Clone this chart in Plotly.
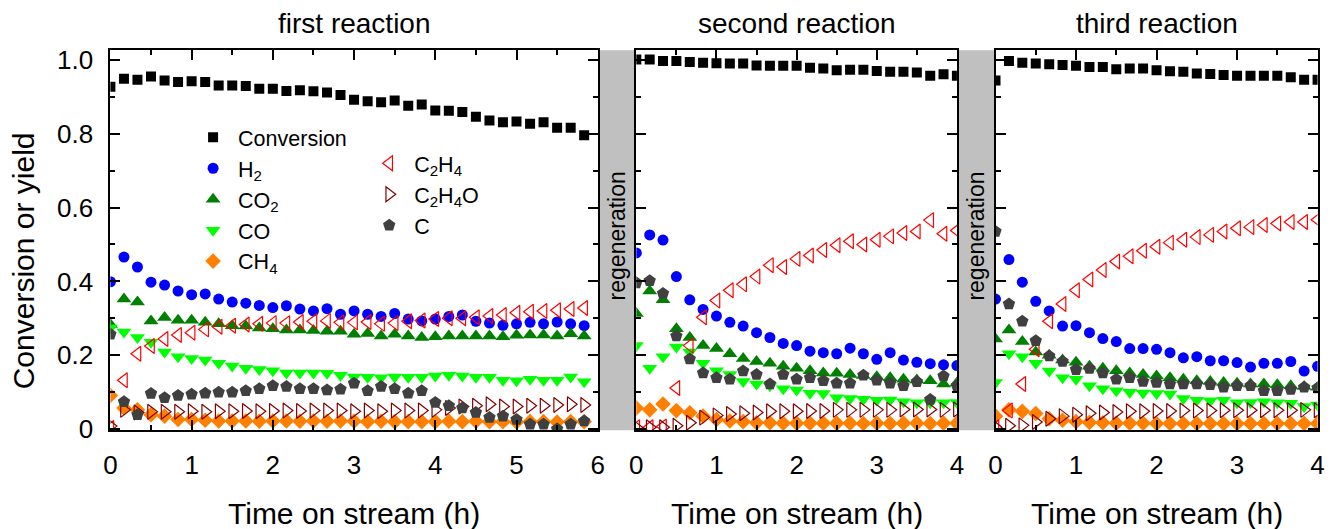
import plotly.graph_objects as go

W, H = 1332, 529

# ---------------- data ----------------
t_first = [0, 0.167, 0.333, 0.5, 0.667, 0.833, 1, 1.167, 1.333, 1.5, 1.667, 1.833,
           2, 2.167, 2.333, 2.5, 2.667, 2.833, 3, 3.167, 3.333, 3.5, 3.667, 3.833,
           4, 4.167, 4.333, 4.5, 4.667, 4.833, 5, 5.167, 5.333, 5.5, 5.667, 5.833]
t_later = [0, 0.167, 0.333, 0.5, 0.667, 0.833, 1, 1.167, 1.333, 1.5, 1.667, 1.833,
           2, 2.167, 2.333, 2.5, 2.667, 2.833, 3, 3.167, 3.333, 3.5, 3.667, 3.833, 4]

conv_1 = [0.927, 0.949, 0.946, 0.955, 0.944, 0.940, 0.942, 0.940, 0.931, 0.931, 0.929, 0.922,
          0.922, 0.916, 0.918, 0.915, 0.912, 0.905, 0.892, 0.888, 0.885, 0.890, 0.876, 0.879,
          0.863, 0.862, 0.859, 0.846, 0.836, 0.831, 0.833, 0.827, 0.831, 0.816, 0.816, 0.796]
h2_1 = [0.399, 0.466, 0.439, 0.398, 0.390, 0.374, 0.364, 0.366, 0.352, 0.344, 0.341, 0.335,
        0.329, 0.334, 0.325, 0.320, 0.326, 0.311, 0.320, 0.311, 0.305, 0.313, 0.298, 0.293,
        0.298, 0.305, 0.309, 0.292, 0.287, 0.281, 0.285, 0.289, 0.285, 0.290, 0.285, 0.280]
co2_1 = [0.283, 0.352, 0.344, 0.293, 0.302, 0.295, 0.295, 0.289, 0.285, 0.280, 0.279, 0.274,
         0.272, 0.268, 0.268, 0.267, 0.265, 0.265, 0.257, 0.259, 0.252, 0.257, 0.252, 0.248,
         0.250, 0.252, 0.252, 0.252, 0.252, 0.250, 0.254, 0.255, 0.255, 0.252, 0.258, 0.252]
co_1 = [0.274, 0.263, 0.248, 0.235, 0.209, 0.196, 0.191, 0.187, 0.178, 0.171, 0.165, 0.161,
        0.158, 0.152, 0.152, 0.152, 0.151, 0.146, 0.141, 0.140, 0.139, 0.141, 0.140, 0.140,
        0.144, 0.146, 0.144, 0.140, 0.140, 0.132, 0.131, 0.135, 0.132, 0.132, 0.141, 0.128]
ch4_1 = [0.091, 0.057, 0.052, 0.039, 0.035, 0.026, 0.026, 0.024, 0.022, 0.022, 0.022, 0.021,
         0.022, 0.022, 0.021, 0.022, 0.021, 0.022, 0.021, 0.020, 0.021, 0.020, 0.020, 0.020,
         0.020, 0.021, 0.020, 0.021, 0.020, 0.020, 0.019, 0.020, 0.020, 0.019, 0.020, 0.020]
c2h4_1 = [0.003, 0.132, 0.204, 0.225, 0.244, 0.255, 0.261, 0.270, 0.277, 0.280, 0.283, 0.285,
          0.287, 0.287, 0.290, 0.292, 0.293, 0.289, 0.289, 0.290, 0.285, 0.287, 0.292, 0.294,
          0.298, 0.300, 0.300, 0.303, 0.306, 0.309, 0.315, 0.318, 0.320, 0.322, 0.325, 0.328]
c2h4o_1 = [0.008, 0.052, 0.045, 0.047, 0.047, 0.047, 0.048, 0.047, 0.048, 0.048, 0.049, 0.048,
           0.049, 0.050, 0.049, 0.050, 0.050, 0.050, 0.048, 0.050, 0.048, 0.050, 0.050, 0.050,
           0.052, 0.057, 0.061, 0.063, 0.067, 0.061, 0.061, 0.063, 0.063, 0.065, 0.067, 0.065]
c_1 = [0.257, 0.074, 0.039, 0.096, 0.085, 0.091, 0.094, 0.097, 0.100, 0.100, 0.104, 0.109,
       0.117, 0.115, 0.109, 0.109, 0.106, 0.108, 0.124, 0.104, 0.115, 0.109, 0.097, 0.104,
       0.072, 0.063, 0.057, 0.045, 0.031, 0.035, 0.026, 0.013, 0.013, 0.000, 0.013, 0.022]

conv_2 = [1.001, 1.001, 0.997, 0.997, 0.994, 0.992, 0.991, 0.990, 0.990, 0.985, 0.984, 0.984,
          0.984, 0.979, 0.977, 0.972, 0.973, 0.973, 0.970, 0.968, 0.968, 0.966, 0.957, 0.961, 0.957]
h2_2 = [0.477, 0.526, 0.512, 0.413, 0.350, 0.324, 0.306, 0.289, 0.279, 0.261, 0.248, 0.232,
        0.226, 0.211, 0.207, 0.204, 0.219, 0.204, 0.189, 0.207, 0.187, 0.181, 0.177, 0.174, 0.172]
co2_2 = [0.313, 0.374, 0.350, 0.272, 0.248, 0.226, 0.218, 0.204, 0.191, 0.183, 0.178, 0.170,
         0.165, 0.158, 0.152, 0.151, 0.148, 0.145, 0.142, 0.139, 0.135, 0.133, 0.131, 0.122, 0.125]
co_2 = [0.226, 0.165, 0.196, 0.222, 0.209, 0.178, 0.158, 0.148, 0.129, 0.122, 0.117, 0.109,
        0.106, 0.097, 0.096, 0.085, 0.083, 0.081, 0.078, 0.079, 0.074, 0.071, 0.071, 0.071, 0.072]
ch4_2 = [0.057, 0.052, 0.068, 0.050, 0.044, 0.035, 0.026, 0.022, 0.020, 0.017, 0.017, 0.016,
         0.016, 0.016, 0.016, 0.016, 0.016, 0.015, 0.016, 0.015, 0.016, 0.016, 0.015, 0.016, 0.016]
c2h4_2 = [0.005, 0.005, 0.007, 0.111, 0.226, 0.303, 0.348, 0.376, 0.392, 0.413, 0.444, 0.439,
          0.461, 0.470, 0.485, 0.498, 0.509, 0.500, 0.513, 0.522, 0.531, 0.535, 0.566, 0.529, 0.538]
c2h4o_2 = [0.004, 0.005, 0.005, 0.009, 0.017, 0.031, 0.037, 0.041, 0.043, 0.045, 0.048, 0.048,
           0.048, 0.049, 0.049, 0.052, 0.052, 0.052, 0.052, 0.052, 0.053, 0.053, 0.053, 0.052, 0.053]
c_2 = [0.396, 0.402, 0.367, 0.252, 0.190, 0.152, 0.139, 0.135, 0.157, 0.148, 0.122, 0.148,
       0.135, 0.139, 0.131, 0.124, 0.124, 0.146, 0.132, 0.124, 0.117, 0.128, 0.080, 0.144, 0.117]

conv_3 = [0.944, 0.997, 0.992, 0.990, 0.988, 0.986, 0.984, 0.981, 0.981, 0.975, 0.977, 0.977,
          0.972, 0.969, 0.968, 0.963, 0.962, 0.959, 0.957, 0.957, 0.957, 0.957, 0.953, 0.946, 0.946]
h2_3 = [0.352, 0.459, 0.398, 0.346, 0.320, 0.279, 0.280, 0.261, 0.245, 0.237, 0.218, 0.218,
        0.216, 0.207, 0.193, 0.196, 0.185, 0.185, 0.180, 0.168, 0.178, 0.178, 0.183, 0.157, 0.170]
co2_3 = [0.244, 0.268, 0.237, 0.209, 0.200, 0.187, 0.181, 0.170, 0.165, 0.158, 0.152, 0.148,
         0.144, 0.139, 0.135, 0.131, 0.129, 0.126, 0.124, 0.122, 0.122, 0.120, 0.117, 0.115, 0.113]
co_3 = [0.126, 0.204, 0.196, 0.178, 0.157, 0.139, 0.135, 0.117, 0.109, 0.104, 0.100, 0.098,
        0.096, 0.095, 0.083, 0.078, 0.077, 0.078, 0.071, 0.072, 0.074, 0.071, 0.070, 0.061, 0.065]
ch4_3 = [0.035, 0.052, 0.048, 0.042, 0.028, 0.024, 0.020, 0.018, 0.017, 0.016, 0.016, 0.016,
         0.015, 0.015, 0.015, 0.015, 0.015, 0.015, 0.015, 0.015, 0.015, 0.015, 0.015, 0.015, 0.015]
c2h4_3 = [0.005, 0.050, 0.122, 0.216, 0.292, 0.339, 0.376, 0.405, 0.431, 0.454, 0.468, 0.483,
          0.494, 0.505, 0.513, 0.520, 0.526, 0.535, 0.544, 0.547, 0.553, 0.557, 0.561, 0.561, 0.567]
c2h4o_3 = [0.005, 0.009, 0.010, 0.019, 0.028, 0.035, 0.039, 0.043, 0.045, 0.046, 0.048, 0.048,
           0.049, 0.049, 0.050, 0.050, 0.050, 0.051, 0.051, 0.051, 0.051, 0.051, 0.051, 0.052, 0.051]
c_3 = [0.535, 0.339, 0.292, 0.239, 0.198, 0.183, 0.161, 0.164, 0.152, 0.135, 0.139, 0.129,
       0.126, 0.122, 0.122, 0.122, 0.120, 0.113, 0.117, 0.117, 0.104, 0.104, 0.107, 0.113, 0.111]

series_names = ["Conversion", "H<sub>2</sub>", "CO<sub>2</sub>", "CO", "CH<sub>4</sub>",
                "C<sub>2</sub>H<sub>4</sub>", "C<sub>2</sub>H<sub>4</sub>O", "C"]
panel_titles = ["first reaction", "second reaction", "third reaction"]
x_ranges = [6, 4, 4]
y_ticks = [0, 0.2, 0.4, 0.6, 0.8, 1.0]
y_tick_text = ["0", "0.2", "0.4", "0.6", "0.8", "1.0"]

panels = [
    (t_first, [conv_1, h2_1, co2_1, co_1, ch4_1, c2h4_1, c2h4o_1, c_1]),
    (t_later, [conv_2, h2_2, co2_2, co_2, ch4_2, c2h4_2, c2h4o_2, c_2]),
    (t_later, [conv_3, h2_3, co2_3, co_3, ch4_3, c2h4_3, c2h4o_3, c_3]),
]

# ---------------- styles ----------------
styles = [
    dict(symbol="square", size=10, color="#000000"),
    dict(symbol="circle", size=11, color="#0000FF"),
    dict(symbol="triangle-up", size=13, color="#008000"),
    dict(symbol="triangle-down", size=13, color="#00FF00"),
    dict(symbol="diamond", size=12, color="#FF8000"),
    dict(symbol="triangle-left-open", size=13, color="#FF0000", line=dict(width=1.2, color="#FF0000")),
    dict(symbol="triangle-right-open", size=13, color="#800000", line=dict(width=1.2, color="#800000")),
    dict(symbol="pentagon", size=13, color="#404040"),
]
legend_ids = ["legend", "legend", "legend", "legend", "legend", "legend2", "legend2", "legend2"]

FONT = "Liberation Sans, Arial, sans-serif"

# pixel layout
x_px = [(104.5, 597.0), (636.0, 960.0), (999.0, 1324.5)]
y_top, y_bot = 47.0, 441.0
gaps = [(598.0, 635.0), (961.0, 998.0)]

fig = go.Figure()
for p, (t, ys) in enumerate(panels):
    xa = "x" if p == 0 else f"x{p+1}"
    ya = "y" if p == 0 else f"y{p+1}"
    for k, (yv, st) in enumerate(zip(ys, styles)):
        fig.add_trace(go.Scatter(
            x=t, y=yv, mode="markers", name=series_names[k],
            marker=st, xaxis=xa, yaxis=ya,
            showlegend=(p == 0), legend=legend_ids[k],
        ))

axis_common = dict(showline=True, linewidth=2, linecolor="black", mirror="allticks",
                   ticks="inside", ticklen=10, tickwidth=2, tickcolor="black",
                   showgrid=False, zeroline=False,
                   tickfont=dict(family=FONT, size=26, color="black"))

ydom = [(H - y_bot) / H, (H - y_top) / H]
for p in range(3):
    xs = "xaxis" if p == 0 else f"xaxis{p+1}"
    ys = "yaxis" if p == 0 else f"yaxis{p+1}"
    fig.layout[xs] = dict(axis_common, domain=[x_px[p][0] / W, x_px[p][1] / W],
                          range=[0, x_ranges[p]], dtick=1, tick0=0,
                          anchor="y" if p == 0 else f"y{p+1}",
                          ticklabelstandoff=11,
                          minor=dict(dtick=0.5, tick0=0, ticks="inside", ticklen=5,
                                     tickwidth=2, tickcolor="black", showgrid=False))
    fig.layout[ys] = dict(axis_common, domain=ydom, range=[-0.003, 1.026],
                          tickmode="array", tickvals=y_ticks, ticktext=y_tick_text,
                          showticklabels=(p == 0), ticklabelstandoff=10,
                          anchor="x" if p == 0 else f"x{p+1}",
                          minor=dict(tickmode="array", tickvals=[0.1, 0.3, 0.5, 0.7, 0.9],
                                     ticks="inside", ticklen=5, tickwidth=2,
                                     tickcolor="black", showgrid=False))

shapes = []
for (a, b) in gaps:
    shapes.append(dict(type="rect", xref="paper", yref="paper",
                       x0=a / W, x1=b / W, y0=ydom[0], y1=ydom[1],
                       fillcolor="#C0C0C0", line=dict(width=0), layer="below"))

annotations = []
def px_ann(text, x, y, size, angle=0):
    annotations.append(dict(text=text, xref="paper", yref="paper", x=x / W, y=1 - y / H,
                            xanchor="center", yanchor="middle", showarrow=False,
                            textangle=angle, font=dict(family=FONT, size=size, color="black")))

for p in range(3):
    cx = (x_px[p][0] + x_px[p][1]) / 2
    px_ann(panel_titles[p], cx, 19, 28)
    px_ann("Time on stream (h)", cx, 527, 30)
for (a, b) in gaps:
    px_ann("regeneration", (a + b) / 2, 240, 23, -90)
px_ann("Conversion or yield", 17, 265, 30, -90)

legend_common = dict(bgcolor="rgba(0,0,0,0)", borderwidth=0, xanchor="left", yanchor="top",
                     font=dict(family=FONT, size=21.5, color="black"), itemwidth=40,
                     tracegroupgap=0)
fig.update_layout(
    width=W, height=H, margin=dict(l=0, r=0, t=0, b=0),
    paper_bgcolor="white", plot_bgcolor="white",
    shapes=shapes, annotations=annotations,
    legend=dict(legend_common, x=183 / W, y=1 - 116 / H),
    legend2=dict(legend_common, x=361 / W, y=1 - 143 / H),
)

fig.write_html("out.html")
